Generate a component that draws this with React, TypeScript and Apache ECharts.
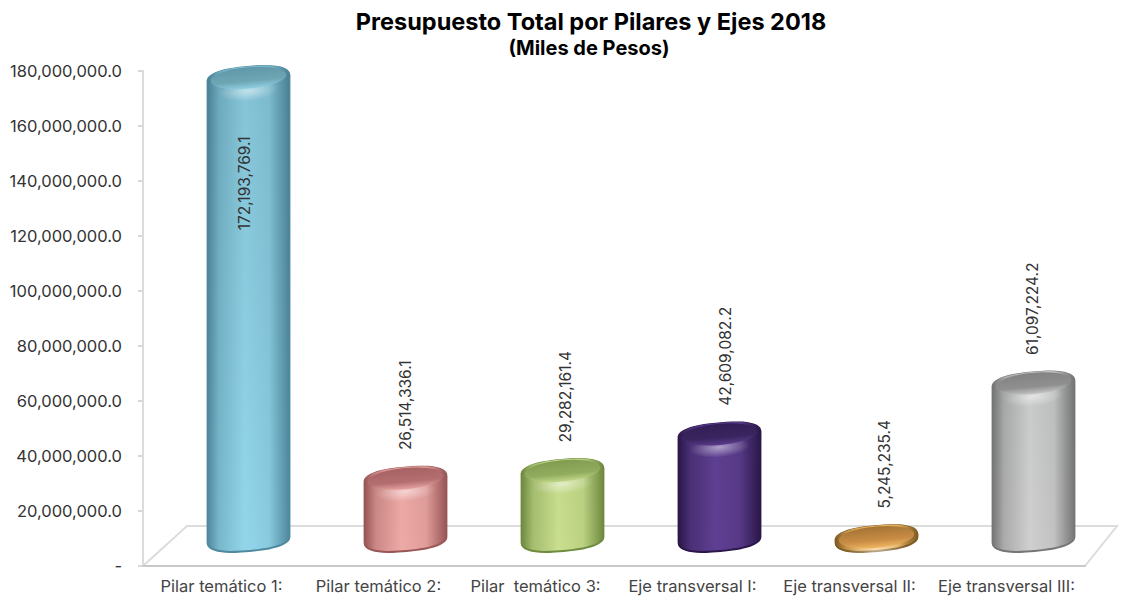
import React, { useEffect, useRef } from "react";
import * as echarts from "echarts";

const titleText = "Presupuesto Total por Pilares y Ejes 2018";
const subtitleText = "(Miles de Pesos)";
const categories = [
  "Pilar temático 1:",
  "Pilar temático 2:",
  "Pilar  temático 3:",
  "Eje transversal I:",
  "Eje transversal II:",
  "Eje transversal III:",
];
const values = [172193769.1, 26514336.1, 29282161.4, 42609082.2, 5245235.4, 61097224.2];
const centerColors = ["#93D6EA", "#EDA9A6", "#C9DE8E", "#5F3F92", "#F5BC66", "#CFCFCF"];
const edgeColors = ["#4F899E", "#995656", "#6F8B40", "#2B1749", "#7F5C24", "#767676"];
const capColors = ["#6FA6B4", "#B46E70", "#92AC5F", "#3A2560", "#C98C45", "#8F8F8F"];
const labelShift = [-4, 0, 3, 6, 8, -1];
const FONT = "Inter";

const fmt = (v: number) =>
  v === 0 ? "-" : v.toLocaleString("en-US", { minimumFractionDigits: 1, maximumFractionDigits: 1 });

const hex = (c: string) => [1, 3, 5].map((k) => parseInt(c.slice(k, k + 2), 16));
const mix = (a: string, b: string, t: number) => {
  const A = hex(a);
  const B = hex(b);
  return `rgb(${A.map((x, k) => Math.round(x + (B[k] - x) * t)).join(",")})`;
};

function outline(cx: number, topY: number, baseY: number, rx: number, ry: number, tilt: number) {
  const pts: number[][] = [];
  const n = 2.5;
  const cos = Math.cos(tilt);
  const sin = Math.sin(tilt);
  const put = (t: number, cy: number) => {
    const c = Math.cos(t);
    const s = Math.sin(t);
    const x = rx * Math.sign(c) * Math.pow(Math.abs(c), 2 / n);
    const y = ry * Math.sign(s) * Math.pow(Math.abs(s), 2 / n);
    pts.push([cx + x * cos + y * sin, cy - x * sin + y * cos]);
  };
  const N = 24;
  for (let k = 0; k <= N; k++) put(Math.PI + (Math.PI * k) / N, topY);
  for (let k = 0; k <= N; k++) put((Math.PI * k) / N, baseY);
  return pts;
}

function renderCylinder(params: any, api: any) {
  const i = api.value(0);
  const v = api.value(1);
  const zero = api.coord([i, 0]);
  const top = api.coord([i, v]);
  const band = api.size([1, 0])[0];
  const cx = zero[0] + band * 0.172;
  const rx = band * 0.268;
  const ry = 13;
  const tilt = 0.09;
  const baseY = zero[1] - 27;
  const topY = Math.min(top[1] - 13.5, baseY);
  const h = baseY - topY;
  const c = centerColors[i];
  const e = edgeColors[i];
  const body = new echarts.graphic.LinearGradient(0, 0, 1, 0, [
    { offset: 0, color: e },
    { offset: 0.14, color: mix(e, c, 0.6) },
    { offset: 0.45, color: c },
    { offset: 0.75, color: mix(e, c, 0.85) },
    { offset: 1, color: e },
  ]);
  const shade = new echarts.graphic.LinearGradient(0, 0, 0, 1, [
    { offset: 0, color: `rgba(30,60,70,${(0.12 * h) / 460})` },
    { offset: 1, color: "rgba(30,60,70,0)" },
  ]);
  const capFill = new echarts.graphic.LinearGradient(0, 0, 0, 1, [
    { offset: 0, color: mix(e, capColors[i], 0.5) },
    { offset: 0.65, color: capColors[i] },
    { offset: 1, color: mix(capColors[i], c, 0.85) },
  ]);
  const glow = new echarts.graphic.RadialGradient(0.5, 0.5, 0.5, [
    { offset: 0, color: "rgba(255,255,255,0.5)" },
    { offset: 1, color: "rgba(255,255,255,0)" },
  ]);
  const inside = v > 100000000;
  const labelY = inside ? top[1] + 44 : topY - ry - 16.5;
  return {
    type: "group",
    children: [
      { type: "polygon", shape: { points: outline(cx, topY, baseY, rx, ry, tilt) }, style: { fill: e } },
      { type: "polygon", shape: { points: outline(cx, topY, baseY - 1.5, rx - 1, ry - 0.5, tilt) }, style: { fill: body } },
      { type: "polygon", shape: { points: outline(cx, topY, baseY - 1.5, rx - 1, ry - 0.5, tilt) }, style: { fill: shade } },
      { type: "ellipse", x: cx, y: topY + 12, rotation: tilt, shape: { cx: 0, cy: 0, rx: rx * 0.72, ry: 10 }, style: { fill: glow } },
      { type: "ellipse", x: cx, y: topY - 1, rotation: tilt, shape: { cx: 0, cy: 0, rx: rx * 0.9, ry: ry * 0.82 }, style: { fill: capFill } },
      {
        type: "text",
        x: cx + labelShift[i],
        y: labelY,
        rotation: Math.PI / 2,
        style: {
          text: fmt(v),
          align: inside ? "right" : "left",
          verticalAlign: "middle",
          fontFamily: FONT,
          fontSize: 15.5,
          fill: "#333",
        },
      },
    ],
  };
}

export default function App() {
  const ref = useRef<HTMLDivElement>(null);
  useEffect(() => {
    document.body.style.margin = "0";
    const chart = echarts.init(ref.current!, undefined, { renderer: "svg" });
    chart.setOption({
      animation: false,
      backgroundColor: "#fff",
      title: [
        { text: titleText, left: 586, top: 4, textAlign: "center", textStyle: { fontFamily: FONT, fontSize: 23.5, fontWeight: "bold", color: "#000" } },
        { text: subtitleText, left: 584, top: 33, textAlign: "center", textStyle: { fontFamily: FONT, fontSize: 20, fontWeight: "bold", color: "#000" } },
      ],
      grid: { left: 143, right: 48, top: 71, bottom: 33 },
      xAxis: {
        type: "category",
        data: categories,
        axisLine: { lineStyle: { color: "#c8c8c8", width: 2 } },
        axisTick: { lineStyle: { color: "#b8b8b8" }, length: 5, inside: false },
        axisLabel: { fontFamily: FONT, fontSize: 16.5, color: "#444", margin: 11, interval: 0 },
      },
      yAxis: {
        type: "value",
        min: 0,
        max: 180000000,
        interval: 20000000,
        splitLine: { show: false },
        axisLine: { show: true, lineStyle: { color: "#dcdcdc", width: 2 } },
        axisTick: { show: true, length: 5, lineStyle: { color: "#d8d8d8", width: 2 } },
        axisLabel: { fontFamily: FONT, fontSize: 16.5, color: "#333", margin: 21, formatter: fmt },
      },
      graphic: [
        {
          type: "polyline",
          z: 0,
          shape: { points: [[143, 566], [187, 526], [1117, 526], [1085, 566]] },
          style: { stroke: "#dcdcdc", fill: "none", lineWidth: 2 },
        },
      ],
      series: [
        {
          type: "custom",
          renderItem: renderCylinder,
          clip: false,
          encode: { x: 0, y: 1 },
          data: values.map((v, i) => [i, v]),
        },
      ],
    });
    return () => chart.dispose();
  }, []);
  return <div ref={ref} style={{ width: 1133, height: 599 }} />;
}
